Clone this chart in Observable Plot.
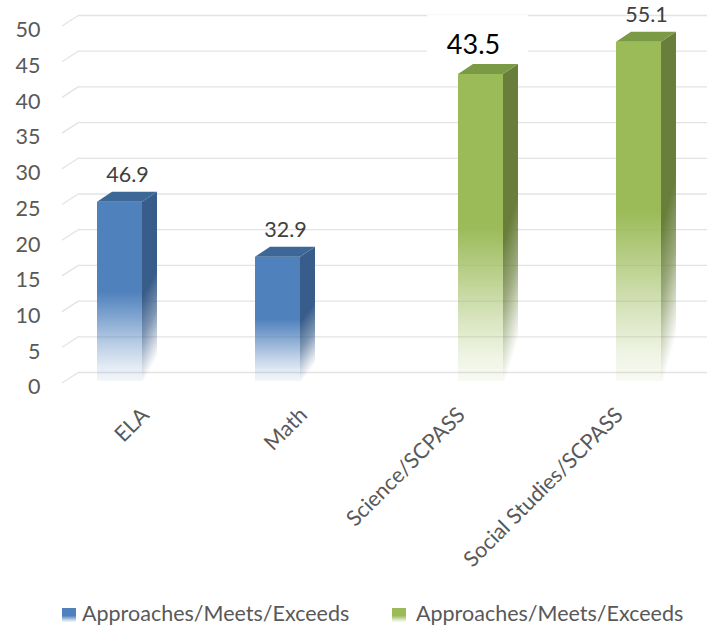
<!DOCTYPE html>
<html><head><meta charset="utf-8">
<script src="https://cdn.jsdelivr.net/npm/d3@7"></script>
<script src="https://cdn.jsdelivr.net/npm/@observablehq/plot@0.6"></script>
<style>
body{margin:0;background:#fff;font-family:Lato,"Open Sans",sans-serif;}
#wrap{position:relative;width:707px;height:629px;overflow:hidden;background:#fff}
#chart{position:absolute;left:0;top:0}
.sw{position:absolute;width:14px;height:14px}
.lt{position:absolute;font-size:21.5px;line-height:21.5px;color:#595959;white-space:nowrap}
</style></head><body><div id="wrap"><div id="chart"></div></div>
<script>
// ---- data ----
const categories = ["ELA", "Math", "Science/SCPASS", "Social Studies/SCPASS"];
const seriesNames = ["Approaches/Meets/Exceeds", "Approaches/Meets/Exceeds"];
const barSeries = [0, 0, 1, 1];
const barValues = [25.1, 17.4, 43.0, 47.5];
const labelTexts = ["46.9", "32.9", "43.5", "55.1"];
const yTicks = [0, 5, 10, 15, 20, 25, 30, 35, 40, 45, 50];

// ---- styles ----
const palettes = [
  {front: "#4F81BD", side: "#385D8A", top: "#3D6797"},
  {front: "#9BBB59", side: "#687E3A", top: "#7B9A46"}
];
const emphasized = "Science/SCPASS";
const BAR_W = 45, DX = 15, DY = 10, FRONT_DY = 9, DIAG_X = 17, DIAG_Y = 11, BIG_DX = -15;

const data = categories.map((c, i) => ({category: c, series: barSeries[i], value: barValues[i], label: labelTexts[i]}));
const bandwidthOf = x => typeof x.bandwidth === "function" ? x.bandwidth() : x.bandwidth;
// horizontal offset from band centre to the middle of a bar's top face
const topFaceOffset = s => (s === 0 ? -BAR_W : 0) + (BAR_W + DX) / 2;

function gradients() {
  const g = d3.create("svg:g");
  const defs = g.append("defs");
  palettes.forEach((p, i) => {
    const f = defs.append("linearGradient").attr("id", "front" + i).attr("x1", 0).attr("y1", 0).attr("x2", 0).attr("y2", 1);
    [[0, 1], [0.5, 1], [0.65, 0.7], [0.8, 0.38], [0.92, 0.16], [1, 0.07]].forEach(([o, a]) =>
      f.append("stop").attr("offset", o).attr("stop-color", p.front).attr("stop-opacity", a));
    const s = defs.append("linearGradient").attr("id", "side" + i).attr("x1", 0).attr("y1", 0).attr("x2", 0.15).attr("y2", 1);
    [[0, 1], [0.55, 1], [0.75, 0.65], [0.9, 0.25], [1, 0]].forEach(([o, a]) =>
      s.append("stop").attr("offset", o).attr("stop-color", p.side).attr("stop-opacity", a));
  });
  return g.node();
}

function diagonals(index, scales, values, dims) {
  const {y} = scales;
  const g = d3.create("svg:g").attr("stroke", "#e3e3e3").attr("stroke-width", 1.3).attr("fill", "none");
  yTicks.forEach(t => {
    const yy = y(t);
    g.append("line").attr("x1", dims.marginLeft).attr("y1", yy + DIAG_Y)
      .attr("x2", dims.marginLeft + DIAG_X).attr("y2", yy);
  });
  return g.node();
}

function bars3d(index, scales) {
  const {x, y} = scales;
  const bw = bandwidthOf(x);
  const g = d3.create("svg:g");
  data.forEach(d => {
    const p = palettes[d.series];
    const c = x(d.category) + bw / 2;
    const x0 = d.series === 0 ? c - BAR_W : c;
    const x1 = x0 + BAR_W;
    const yt = y(d.value) + FRONT_DY;
    const yb = y(0) + FRONT_DY;
    g.append("path").attr("d", `M${x1},${yt}L${x1 + DX},${yt - DY}L${x1 + DX},${yb - DY}L${x1},${yb}Z`)
      .attr("fill", `url(#side${d.series})`);
    g.append("rect").attr("x", x0).attr("y", yt).attr("width", BAR_W).attr("height", yb - yt)
      .attr("fill", `url(#front${d.series})`);
    g.append("path").attr("d", `M${x0},${yt}L${x1},${yt}L${x1 + DX},${yt - DY}L${x0 + DX},${yt - DY}Z`)
      .attr("fill", p.top);
    if (d.category === emphasized) {
      const lx = c + topFaceOffset(d.series) + BIG_DX;
      const ly = y(d.value) - 11;
      g.append("rect").attr("x", lx - 46).attr("y", ly - 39).attr("width", 101).attr("height", 41).attr("fill", "#fff");
    }
  });
  return g.node();
}

function shiftToTopFace(subset) {
  return (index, scales, values, dims, ctx, next) => {
    const X = Array.from(values.x, (v, i) => v + topFaceOffset(subset[i].series));
    return next(index, scales, {...values, x: X}, dims, ctx);
  };
}

const normalLabels = data.filter(d => d.category !== emphasized);
const bigLabels = data.filter(d => d.category === emphasized);

const plot = Plot.plot({
  width: 707,
  height: 590,
  marginTop: 15,
  marginBottom: 218,
  marginLeft: 62,
  marginRight: 11,
  style: {fontFamily: "Lato, 'Open Sans', sans-serif", background: "#fff"},
  x: {type: "band", domain: categories, padding: 0},
  y: {domain: [0, 50]},
  marks: [
    gradients,
    Plot.ruleY(yTicks, {stroke: "#e3e3e3", strokeWidth: 1.3, dx: DIAG_X}),
    diagonals,
    bars3d,
    Plot.text(normalLabels, {
      x: "category", y: "value", text: "label",
      dy: -11, lineAnchor: "bottom", fontSize: 21.5, fill: "#404040",
      render: shiftToTopFace(normalLabels)
    }),
    Plot.text(bigLabels, {
      x: "category", y: "value", text: "label",
      dx: BIG_DX, dy: -11, lineAnchor: "bottom", fontSize: 27, fill: "#000",
      render: shiftToTopFace(bigLabels)
    }),
    Plot.axisY(yTicks, {tickSize: 0, tickPadding: 22, dy: 15, fontSize: 21.5, fill: "#595959", label: null}),
    Plot.axisX({tickRotate: -45, tickSize: 0, tickPadding: 39, dx: 3, fontSize: 21.5, fill: "#595959", label: null})
  ]
});
document.getElementById("chart").appendChild(plot);

// ---- legend ----
const wrap = document.getElementById("wrap");
const legendPos = [[62, 82], [392, 416]];
seriesNames.forEach((name, i) => {
  const p = palettes[i];
  const sw = document.createElement("div");
  sw.className = "sw";
  sw.style.left = legendPos[i][0] + "px";
  sw.style.top = "608px";
  sw.style.background = `linear-gradient(to bottom, ${p.front} 0%, ${p.front} 55%, ${p.front}55 85%, ${p.front}11 100%)`;
  wrap.appendChild(sw);
  const t = document.createElement("div");
  t.className = "lt";
  t.style.left = legendPos[i][1] + "px";
  t.style.top = "603px";
  t.textContent = name;
  wrap.appendChild(t);
});
</script></body></html>
